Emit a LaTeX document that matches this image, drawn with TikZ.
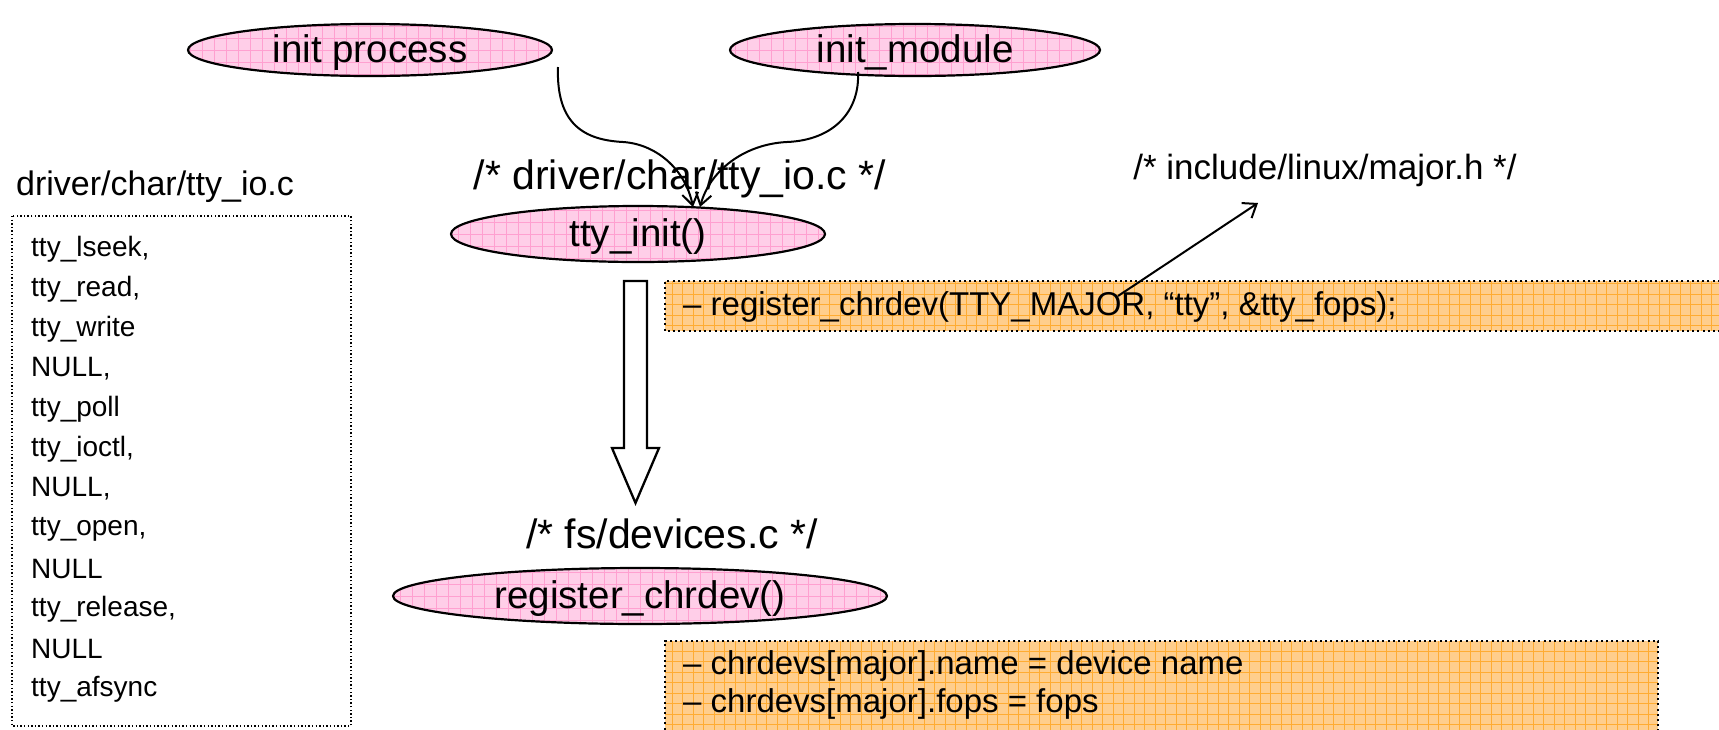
\documentclass[tikz,border=0pt]{standalone}
\usepackage{fontspec}
\setmainfont{Liberation Sans}
\usetikzlibrary{arrows.meta,shapes.geometric}

\definecolor{pinkbg}{RGB}{255,206,232}
\definecolor{pinkgrid}{RGB}{255,160,208}
\definecolor{orangebg}{RGB}{255,206,140}
\definecolor{orangegrid}{RGB}{255,172,50}

\tikzset{
  fsz/.style={font=\fontsize{#1}{#1}\selectfont},
  blob/.style={ellipse, draw=black, line width=2.2pt, fill=pinkbg, inner sep=0pt,
    path picture={\draw[pinkgrid, line width=0.7pt]
      (path picture bounding box.south west) grid[step=12pt]
      (path picture bounding box.north east);}},
  blobtext/.style={fsz=38.5, inner sep=0pt, yshift=-2.5pt},
  comment/.style={inner sep=0pt},
  codebox/.style={fill=orangebg,
    path picture={\draw[orangegrid, line width=0.7pt]
      (path picture bounding box.south west) grid[step=10.5pt]
      (path picture bounding box.north east);}},
  dotborder/.style={line width=2pt, dash pattern=on 2pt off 3.2pt},
  thindots/.style={line width=1.4pt, dash pattern=on 1.4pt off 2.2pt},
  codetext/.style={fsz=33, anchor=west, inner sep=0pt},
  listtext/.style={fsz=28, anchor=west, inner sep=0pt},
  conn/.style={line width=2pt, -{Straight Barb[length=12pt, width=16pt, line width=2pt]}},
}

\begin{document}
\begin{tikzpicture}[x=1pt, y=-1pt]
\useasboundingbox[fill=white] (0,0) rectangle (1719,729);

% call graph ellipses
\node[blob, minimum width=364pt, minimum height=52pt] (initp) at (370,50) {};
\node[blobtext] at (initp) {init process};
\node[blob, minimum width=370pt, minimum height=52pt] (initm) at (915,50) {};
\node[blobtext] at (initm) {init\_module};
\node[blob, minimum width=374pt, minimum height=56pt] (tty) at (638,234) {};
\node[blobtext] at (tty) {tty\_init()};
\node[blob, minimum width=494pt, minimum height=56pt] (reg) at (640,596) {};
\node[blobtext] at (reg) {register\_chrdev()};

% source file comments
\node[comment, fsz=41] (ttyc) at (680,179) {/* driver/char/tty\_io.c */};
\node[comment, fsz=41] (devc) at (672,534) {/* fs/devices.c */};
\node[comment, fsz=35] (majorh) at (1325,170) {/* include/linux/major.h */};

% code boxes
\path[codebox] (665,281) rectangle (1725,331);
\draw[dotborder] (1725,281) -- (665,281) -- (665,331) -- (1725,331);
\node[codetext] (regcall) at (683,307) {– register\_chrdev(TTY\_MAJOR, “tty”, \&tty\_fops);};

\path[codebox] (665,641) rectangle (1658,740);
\draw[dotborder] (665,740) -- (665,641) -- (1658,641) -- (1658,740);
\node[codetext] (name) at (683,666) {– chrdevs[major].name = device name};
\node[codetext] (fops) at (683,704) {– chrdevs[major].fops = fops};

% file operations list
\node[comment, fsz=34, anchor=west] (fname) at (16,187) {driver/char/tty\_io.c};
\draw[thindots] (12,216) rectangle (351,726);
\foreach \t [count=\i from 0] in {{tty\_lseek,}, {tty\_read,}, {tty\_write}, {NULL,},
    {tty\_poll}, {tty\_ioctl,}, {NULL,}, {tty\_open,}, {NULL}, {tty\_release,},
    {NULL}, {tty\_afsync}}
  \node[listtext] at (31,249+40*\i) {\t};

% callers of tty_init
\coordinate (s1) at (558,67);
\coordinate (s2) at (858,72);
\coordinate (t1) at (693,207);
\coordinate (t2) at (700,207);
\draw[conn] (s1) .. controls (556,125) and (585,140) .. (623,142)
  .. controls (655,144) and (685,168) .. (t1);
\draw[conn] (s2) .. controls (860,110) and (835,140) .. (787,142)
  .. controls (745,144) and (710,170) .. (t2);

% hollow arrow from tty_init to register_chrdev
\draw[line width=2.3pt, fill=white, line join=miter]
  (624,281) -- (647,281) -- (647,448) -- (659,448) -- (635.5,503)
  -- (612,448) -- (624,448) -- cycle;

% pointer to the major number header
\coordinate (qt) at (1118,296);
\coordinate (mh) at (1258,203);
\draw[line width=2pt, -{Straight Barb[length=12pt, width=18pt, line width=2pt]}] (qt) -- (mh);
\end{tikzpicture}
\end{document}
